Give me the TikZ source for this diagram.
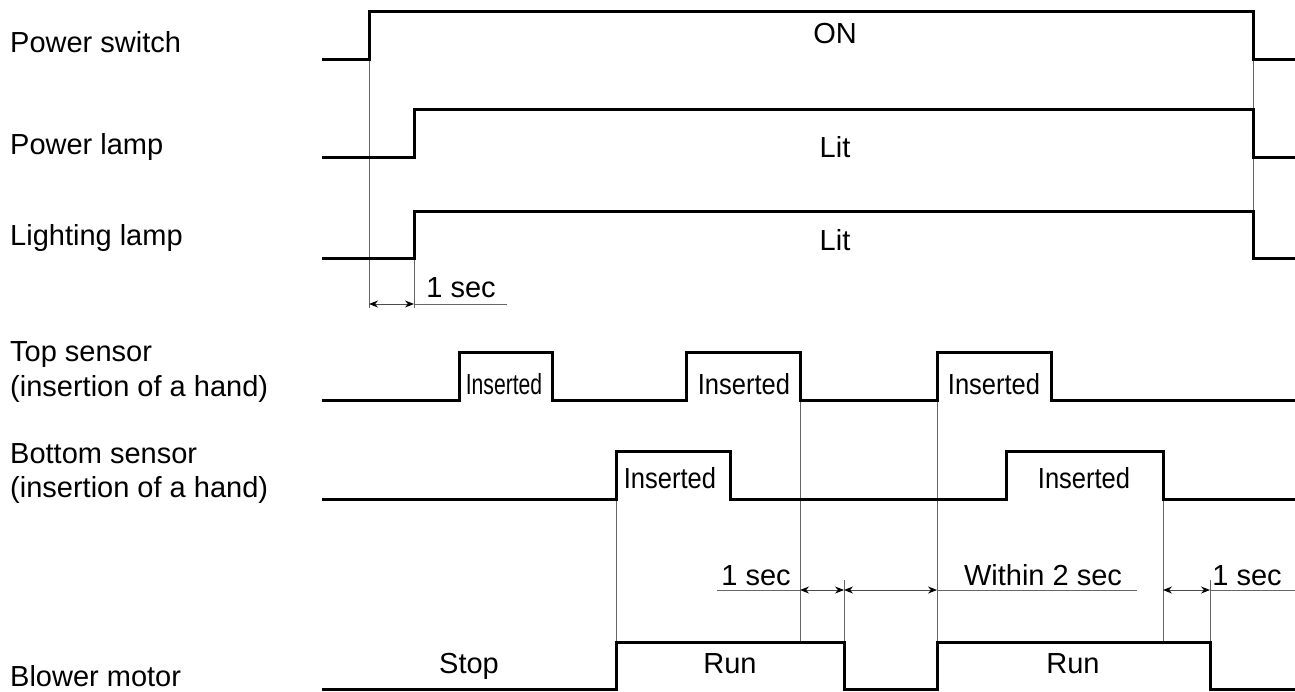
\documentclass[tikz,border=0pt]{standalone}
\usepackage{fontspec}
\setmainfont{Liberation Sans}
\usetikzlibrary{arrows.meta}

\begin{document}
\begin{tikzpicture}[x=1pt, y=-1pt,
    sig/.style={line width=3pt},
    guide/.style={line width=1pt, black!60},
    dim/.style={line width=1pt, black!70,
        {Stealth[length=9pt,width=7pt,black]}-{Stealth[length=9pt,width=7pt,black]}},
    lbl/.style={anchor=base west, inner sep=0pt, font=\fontsize{29}{33}\selectfont},
    val/.style={anchor=base, inner sep=0pt, font=\fontsize{29}{33}\selectfont}]

    \useasboundingbox (0,0) rectangle (1295,691);

    % SIGNAL NAMES
    \node[lbl] (nsw)  at (10,52)  {Power switch};
    \node[lbl] (npl)  at (10,154) {Power lamp};
    \node[lbl] (nll)  at (10,245) {Lighting lamp};
    \node[lbl] (nts)  at (10,361) {Top sensor};
    \node[lbl] (nts2) at (10,396) {(insertion of a hand)};
    \node[lbl] (nbs)  at (10,463) {Bottom sensor};
    \node[lbl] (nbs2) at (10,497) {(insertion of a hand)};
    \node[lbl] (nbm)  at (10,686) {Blower motor};

    % THIN GUIDE LINES (under the signals)
    \foreach \x/\ya/\yb in {
        369/59/308, 414/258/308, 1253/11/258,
        616/499/642, 800/352/642, 844/580/642,
        937/400/642, 1163/499/642, 1210/580/642
    }{
        \draw[guide] (\x,\ya) -- (\x,\yb);
    }

    % SIGNALS
    \draw[sig] (322,59) -- (369,59) -- (369,11) -- (1253,11) -- (1253,59) -- (1295,59);
    \draw[sig] (322,157) -- (414,157) -- (414,109) -- (1253,109) -- (1253,157) -- (1295,157);
    \draw[sig] (322,258) -- (414,258) -- (414,211) -- (1253,211) -- (1253,258) -- (1295,258);
    \draw[sig] (322,400) -- (459,400) -- (459,352) -- (552,352) -- (552,400)
        -- (686,400) -- (686,352) -- (800,352) -- (800,400)
        -- (937,400) -- (937,352) -- (1051,352) -- (1051,400) -- (1295,400);
    \draw[sig] (322,499) -- (616,499) -- (616,451) -- (730,451) -- (730,499)
        -- (1006,499) -- (1006,451) -- (1163,451) -- (1163,499) -- (1295,499);
    \draw[sig] (322,689) -- (616,689) -- (616,642) -- (844,642) -- (844,689)
        -- (937,689) -- (937,642) -- (1210,642) -- (1210,689) -- (1295,689);

    % STATE TEXTS
    \node[val] (on)   at (835,43)  {ON};
    \node[val] (lit1) at (835,157) {Lit};
    \node[val] (lit2) at (835,250) {Lit};
    \node[val, xscale=0.73] (ts1) at (504,394) {Inserted};
    \node[val, xscale=0.88] (ts2) at (744,394) {Inserted};
    \node[val, xscale=0.88] (ts3) at (994,394) {Inserted};
    \node[val, xscale=0.88] (bs1) at (670,488) {Inserted};
    \node[val, xscale=0.88] (bs2) at (1084,488) {Inserted};
    \node[val] (stop) at (469,673)  {Stop};
    \node[val] (run1) at (730,673)  {Run};
    \node[val] (run2) at (1073,673) {Run};

    % DELAY MARKS
    \coordinate (d1) at (369,304);
    \coordinate (d2) at (414,304);
    \coordinate (d3) at (507,304);
    \draw[dim] (d1) -- (d2);
    \draw[guide] (d2) -- (d3);
    \node[val] (sec1) at (461,297) {1 sec};

    \coordinate (e0) at (717,590);
    \coordinate (e1) at (800,590);
    \coordinate (e2) at (844,590);
    \coordinate (e3) at (937,590);
    \coordinate (e4) at (1137,590);
    \coordinate (e5) at (1163,590);
    \coordinate (e6) at (1210,590);
    \coordinate (e7) at (1295,590);
    \draw[dim] (e1) -- (e2);
    \draw[dim] (e2) -- (e3);
    \draw[dim] (e5) -- (e6);
    \draw[guide] (e0) -- (e1);
    \draw[guide] (e3) -- (e4);
    \draw[guide] (e6) -- (e7);
    \node[val] (sec2) at (756,585)  {1 sec};
    \node[val] (win)  at (1043,585) {Within 2 sec};
    \node[val] (sec3) at (1247,585) {1 sec};

\end{tikzpicture}
\end{document}
